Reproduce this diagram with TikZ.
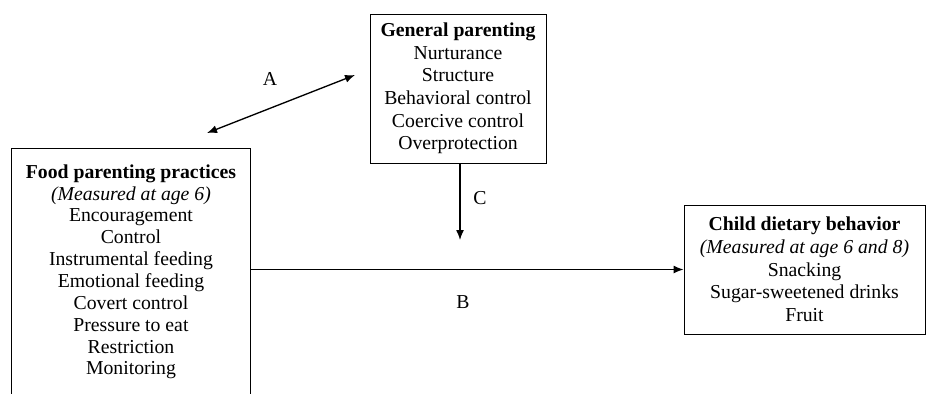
\documentclass[tikz,border=0pt]{standalone}
\usepackage{fontspec}
\setmainfont{Liberation Serif}
\usetikzlibrary{arrows.meta}
\begin{document}
\begin{tikzpicture}[x=0.75pt, y=-0.75pt,
    >={Latex[length=7.5pt,width=6pt]},
    every node/.style={font=\fontsize{14.8}{17}\selectfont},
    box/.style={draw, line width=0.7pt, align=center, inner sep=0pt},
    link/.style={line width=1pt, ->}]
    \clip (0, 0) rectangle (927, 393);

    % General parenting
    \node[box, minimum width=132pt, minimum height=111.75pt] (general) at (458, 88.5)
        {\textbf{General parenting}\\Nurturance\\Structure\\Behavioral control\\Coercive control\\Overprotection};

    % Food parenting practices (box runs off the bottom)
    \node[box, anchor=north west, minimum width=179.25pt, text depth=60pt, inner ysep=12pt,
          font=\fontsize{14.8}{16.4}\selectfont] (food) at (11, 148)
        {\textbf{Food parenting practices}\\\textit{(Measured at age 6)}\\Encouragement\\Control\\Instrumental feeding\\Emotional feeding\\Covert control\\Pressure to eat\\Restriction\\Monitoring};

    % Child dietary behavior
    \node[box, minimum width=180.75pt, minimum height=96.75pt] (child) at (804.5, 269.5)
        {\textbf{Child dietary behavior}\\\textit{(Measured at age 6 and 8)}\\Snacking\\Sugar-sweetened drinks\\Fruit};

    % Arrows
    \coordinate (aleft) at (207, 133);
    \coordinate (aright) at (355, 75);
    \coordinate (cend) at (460, 240);
    \draw[link, <->] (aleft) -- (aright);
    \node (alabel) at (270, 79) {A};
    \draw[link] (general.south -| cend) -- (cend);
    \node (clabel) at (480, 198) {C};
    \draw[link] (food.east |- child.west) -- (child.west);
    \node (blabel) at (463, 302) {B};
\end{tikzpicture}
\end{document}
